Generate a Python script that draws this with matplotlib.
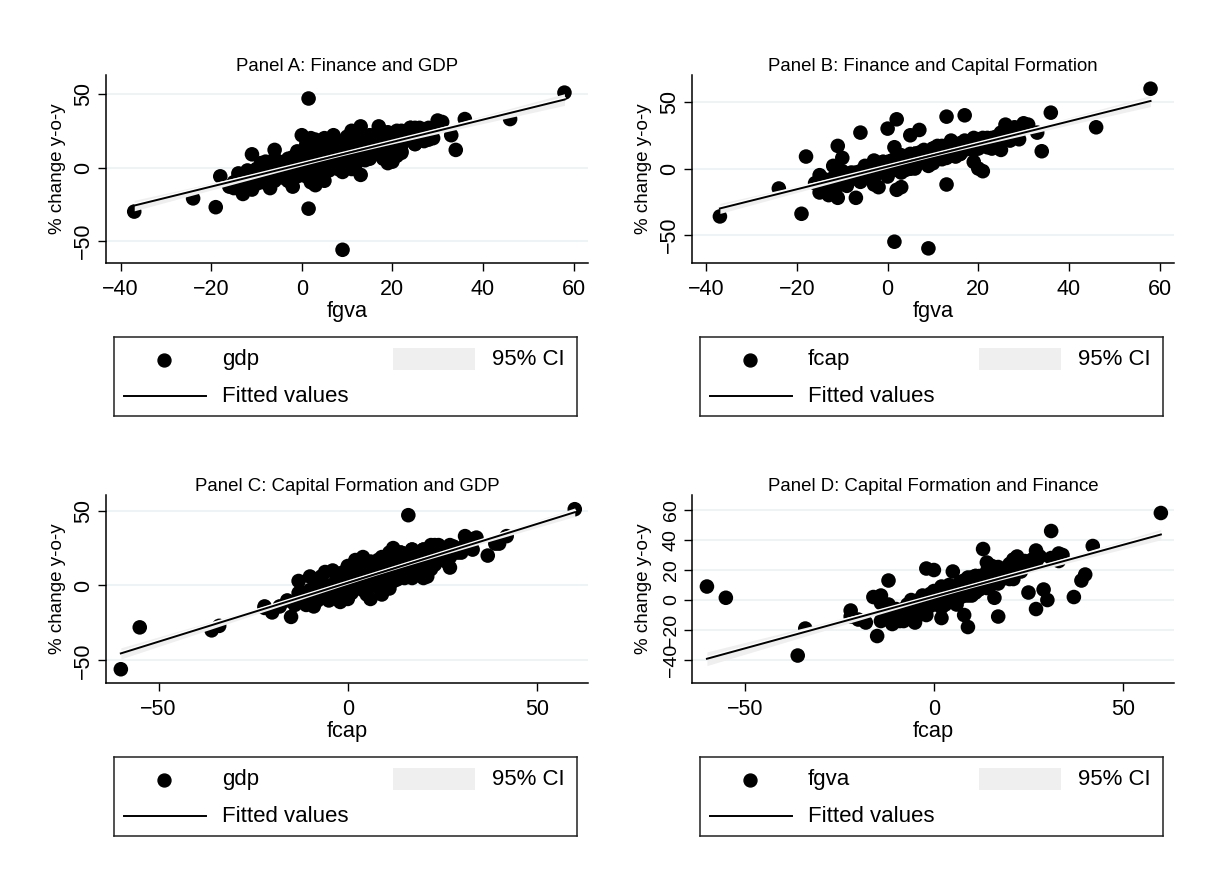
import numpy as np
import matplotlib.pyplot as plt
import matplotlib.patheffects as pe
from matplotlib.patches import Rectangle

plt.rcParams['font.family'] = ['Liberation Sans', 'DejaVu Sans']

# year-on-year % changes, one entry per observation
fgva = [58, -37, 9, 1.5, 1.5, 46, 36, 34, -19, -24,
        -18, -11, -6, 20, 17, 0, 2, 30, 31, 33,
        25, 27, 25, -14, -13, -11, -7, -15, -10, -10,
        -2, -5, -4, -3, -12, -6, -16, -13, -12, 13,
        9, 11, 3, 2, 1, 0, 0, 1, 2, 3,
        4, 5, 6, 6, 7, 7, 8, 8, 9, 9,
        10, 10, 11, 11, 12, 12, 13, 14, 14, 15,
        15, 23, 16, 17, 26, 18, 27, 19, 29, 21,
        21, 22, 20, -1, -2, -1, 0, 1, 2, 3,
        4, 5, 5, 6, 7, 8, 9, 10, 11, 12,
        13, 14, 15, 3, -3, -8, -12, -8, -5, 4,
        6, 10, 7, 12, 17, 27, 26, 28, 29, 1,
        18, 22, 26, 3, -9, 5, 8, 11, 24, 2,
        4, 6, 8, 10, 12, 14, 16, 0, -2, -4,
        -10, -14, -12, 26, 20, 22, 5, 7, 3, 21,
        19, -12, -15, -3,
        -14, -12, -11, -9, -8, -7, -6, -5, -4, -3,
        -2, -1, 0, 0, 1, 1, 2, 2, 3, 3,
        4, 4, 5, 5, 5, 6, 6, 6, 7, 7,
        7, 8, 8, 8, 9, 9, 9, 10, 10, 10,
        11, 11, 11, 12, 12, 12, 13, 13, 13, 14,
        14, 14, 15, 15, 16, 16, 17, 17, 18, 18,
        19, 19, 20, 20, 21, 22, 23, 24, 25, 26,
        -10, -6, -2, 2, 4, 6, 8, 10, 12, 14,
        16, 18, 3, 5, 7, 9, 11, 13, 15, 28,
        -12, -9, -7, -5, -3, -1, 0, 1, 2, 3,
        4, 5, 6, 7, 8, 9, 10, 11, 12, 13,
        14, 15, 16, 17, 18, 19, 20, 21, 22, 24,
        -8, -4, 0, 2, 4, 6, 8, 10, 12, 14,
        16, 18, 20, 23, 25, 27, -6, 1, 5, 9,
        13, 17, 21, 3, 7, 11, 15, 19, 6, 10]
gdp = [51, -30, -56, -28, 47, 33, 33, 12, -27, -21,
       -6, 9, 12, 4, 28, 22, 20, 32, 31, 22,
       27, 18, 16, -7, -18, -15, -14, -14, -1, -3,
       -13, -5, 2, 3, -10, -4, -13, -10, -8, -5,
       -3, -1, -8, -10, -6, 8, 10, 12, 6, 14,
       9, 20, 5, 15, 12, 22, 10, 18, 7, 16,
       4, 12, 20, 8, 14, 3, 28, 20, 11, 17,
       6, 24, 13, 9, 27, 18, 22, 12, 26, 24,
       15, 19, 5, 4, 0, 11, -5, 1, 3, -2,
       4, 0, 11, 8, 3, 6, 13, 9, 16, 10,
       7, 15, 22, 19, -2, -7, -4, 0, 4, -4,
       -2, 21, 17, 24, 14, 20, 24, 27, 20, 16,
       6, 10, 21, -12, 3, -9, 1, 25, 27, 9,
       13, 18, 14, 17, 19, 9, 20, 3, 7, -1,
       -6, -12, -8, 23, 17, 25, 7, 0, 5, 8,
       3, -2, -10, -9,
       -4, -14, -5, -8, 4, -4, -9, 2, -1, -9,
       6, -1, 9, -2, 4, -5, 7, -1, 13, 3,
       9, -1, 8, 3, 13, 7, 0, 12, 5, 15,
       3, 9, -1, 14, 8, 12, 4, 19, 7, 12,
       5, 15, 10, 18, 3, 11, 17, 8, 14, 6,
       19, 11, 17, 9, 22, 13, 9, 19, 17, 7,
       24, 14, 20, 14, 23, 11, 20, 27, 20, 25,
       -11, 6, -1, 8, -2, 9, 5, 16, 5, 14,
       22, 12, 4, 4, 12, 3, 14, 11, 21, 19,
       -3, -10, -2, -5, 6, -6, 4, 2, 9, 0,
       5, 13, 1, 10, 6, 17, 5, 12, 8, 18,
       5, 16, 18, 14, 10, 22, 16, 25, 15, 22,
       -1, -7, 10, 2, 0, 11, 8, 3, 17, 10,
       16, 12, 23, 19, 16, 26, 4, 1, -2, 13,
       13, 10, 24, 1, 9, 4, 19, 17, 3, 13]
fcap = [60, -36, -60, -55, 16, 31, 42, 13, -34, -15,
        9, 17, 27, 0, 40, 30, 37, 34, 33, 27,
        27, 21, 14, -8, -20, -22, -22, -18, 8, -8,
        -14, -3, -2, 3, -13, -4, -11, -12, -8, -12,
        4, 10, -3, -16, 0, 5, 2, 6, 3, 10,
        3, 25, 6, 11, 7, 29, 10, 10, 12, 8,
        8, 13, 12, 11, 12, 12, 39, 12, 13, 17,
        10, 23, 14, 17, 22, 18, 26, 14, 28, 20,
        22, 17, 15, 3, -2, 5, -2, 5, 0, 2,
        7, 2, 8, 6, 9, 5, 10, 12, 11, 12,
        10, 17, 14, 9, 1, -8, -7, -5, 2, -1,
        4, 15, 8, 17, 15, 27, 33, 31, 22, 6,
        16, 16, 24, -14, -13, 0, 9, 12, 24, 7,
        5, 11, 9, 15, 11, 12, 19, 0, 3, -3,
        -4, -14, -9, 26, 16, 23, 5, 8, 4, -2,
        5, 2, -5, -12,
        -9, -9, -13, -5, -3, -7, -2, -2, -6, 6,
        -2, 4, -6, 4, 2, 1, 7, 2, 3, -1,
        6, 5, 10, 2, 4, 10, 6, 0, 12, 7,
        5, 14, 9, 9, 4, 9, 13, 4, 12, 8,
        17, 7, 11, 14, 7, 14, 11, 16, 8, 21,
        10, 15, 9, 18, 14, 12, 21, 14, 19, 15,
        17, 23, 16, 17, 23, 22, 15, 23, 26, 22,
        -2, -10, 1, 2, 4, 9, 5, 14, 12, 15,
        11, 18, 8, 4, 8, 5, 13, 12, 15, 27,
        -10, -8, -3, -3, -7, 5, -1, 6, -1, 6,
        5, 0, 11, 5, 12, 2, 13, 11, 15, 9,
        20, 13, 11, 19, 20, 18, 18, 22, 22, 20,
        -5, -1, -4, 7, 7, 1, 10, 12, 10, 18,
        13, 20, 22, 20, 26, 27, -8, 1, 11, 9,
        9, 18, 20, 4, 10, 12, 14, 15, 8, 11]

panels = [
    dict(x=fgva, y=gdp, xname='fgva', yname='gdp', title='Panel A: Finance and GDP',
         xticks=[-40, -20, 0, 20, 40, 60], yticks=[-50, 0, 50],
         xlim=(-43.3, 63.2), ylim=(-65, 63), pos=(105.7, 75)),
    dict(x=fgva, y=fcap, xname='fgva', yname='fcap', title='Panel B: Finance and Capital Formation',
         xticks=[-40, -20, 0, 20, 40, 60], yticks=[-50, 0, 50],
         xlim=(-43.2, 63.2), ylim=(-71, 70.3), pos=(691.8, 75)),
    dict(x=fcap, y=gdp, xname='fcap', yname='gdp', title='Panel C: Capital Formation and GDP',
         xticks=[-50, 0, 50], yticks=[-50, 0, 50],
         xlim=(-64, 63.5), ylim=(-65.2, 60.5), pos=(105.7, 495)),
    dict(x=fcap, y=fgva, xname='fcap', yname='fgva', title='Panel D: Capital Formation and Finance',
         xticks=[-50, 0, 50], yticks=[-40, -20, 0, 20, 40, 60],
         xlim=(-64, 63.5), ylim=(-55.3, 70), pos=(691.8, 495)),
]

W, H = 1208, 884
AW, AH = 482.3, 188
ci_color = '#efefef'
grid_color = '#eaf2f3'


def rect(l, t, w, h):
    return [l / W, 1 - (t + h) / H, w / W, h / H]


def lfitci(x, y, t=1.97):
    x = np.asarray(x, float)
    y = np.asarray(y, float)
    b, a = np.polyfit(x, y, 1)
    n = len(x)
    resid = y - (a + b * x)
    s = np.sqrt(np.sum(resid ** 2) / (n - 2))
    xs = np.linspace(x.min(), x.max(), 100)
    se = s * np.sqrt(1 / n + (xs - x.mean()) ** 2 / np.sum((x - x.mean()) ** 2))
    fit = a + b * xs
    return xs, fit, fit - t * se, fit + t * se


fig = plt.figure(figsize=(W / 100, H / 100), dpi=100)

for p in panels:
    left, top = p['pos']
    ax = fig.add_axes(rect(left, top, AW, AH))
    ax.scatter(p['x'], p['y'], s=110, color='black', edgecolors='none', zorder=2)
    xs, fit, lo, hi = lfitci(p['x'], p['y'])
    ax.fill_between(xs, lo, hi, color=ci_color, lw=0, zorder=3)
    ax.plot(xs, fit, color='black', lw=1.4, zorder=4,
            path_effects=[pe.Stroke(offset=(0.4, 1.3), linewidth=1.1, foreground='white'),
                          pe.Normal()])

    ax.set_xlim(*p['xlim'])
    ax.set_ylim(*p['ylim'])
    ax.set_xticks(p['xticks'])
    ax.set_yticks(p['yticks'])
    for yt in p['yticks']:
        ax.axhline(yt, color=grid_color, lw=1.2, zorder=0)
    for side in ['top', 'right']:
        ax.spines[side].set_visible(False)
    for side in ['left', 'bottom']:
        ax.spines[side].set_linewidth(1.1)
    ax.tick_params(axis='both', length=5.5, width=1, labelsize=15.5, direction='out')
    ax.tick_params(axis='x', pad=6)
    ax.tick_params(axis='y', pad=3, labelrotation=90)
    if len(p['yticks']) > 3:
        ax.tick_params(axis='y', labelsize=14)
    plt.setp(ax.get_yticklabels(), va='center')
    ax.set_xlabel(p['xname'], fontsize=15.7, labelpad=1)
    ax.set_ylabel('% change y-o-y', fontsize=13.5)
    ax.yaxis.set_label_coords(-0.083, 0.5)
    ax.set_title(p['title'], fontsize=13.4, pad=2)

    # legend box under each panel
    lw_, lh_ = 463.4, 78.7
    lax = fig.add_axes(rect(left + 7.9, top + 262, lw_, lh_))
    lax.set_xlim(0, lw_)
    lax.set_ylim(lh_, 0)
    lax.set_xticks([])
    lax.set_yticks([])
    for sp in lax.spines.values():
        sp.set_linewidth(1.1)
        sp.set_color('#222222')
    lax.plot([50], [22.7], 'o', color='black', ms=9.3)
    lax.plot([10, 92.7], [59.4, 59.4], color='black', lw=1.4)
    lax.add_patch(Rectangle((279.3, 11), 82.4, 22.3, color=ci_color, lw=0))
    lax.text(108.3, 22.7, p['yname'], fontsize=16, va='center')
    lax.text(108.3, 59.4, 'Fitted values', fontsize=16, va='center')
    lax.text(378.3, 22.7, '95% CI', fontsize=16, va='center')

fig.savefig('out.png', dpi=100)
